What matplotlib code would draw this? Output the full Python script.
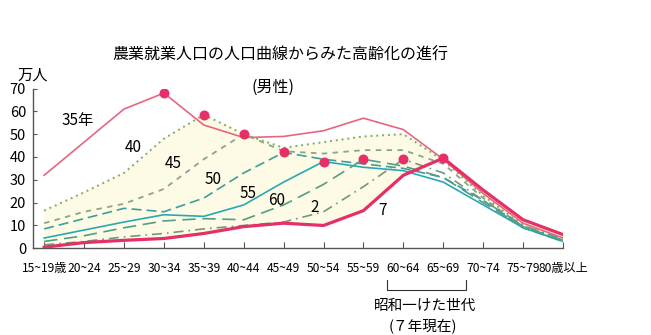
import matplotlib
matplotlib.use('Agg')
import matplotlib.pyplot as plt
import numpy as np

plt.rcParams['font.family'] = ['Noto Sans CJK JP', 'DejaVu Sans']

# 年齢階級
categories = ['15~19歳', '20~24', '25~29', '30~34', '35~39', '40~44', '45~49',
              '50~54', '55~59', '60~64', '65~69', '70~74', '75~79', '80歳以上']

# 各年の農業就業人口(男性、万人)
s35 = [32, 46.5, 61, 68, 54, 48.5, 49, 51.5, 57, 52, 39, 24, 11, 4.5]
s40 = [16.5, 24.5, 33, 48, 58.5, 50, 44, 46.5, 49, 50, 38.5, 23, 10, 3.5]
s45 = [11, 16, 19.5, 26, 39, 50, 42.5, 41.5, 43, 43, 37, 22, 9.5, 3]
s50 = [8.5, 13, 17.5, 16, 22, 33, 42, 39, 37, 35, 31, 21, 9, 3]
s55 = [4.5, 8, 11.5, 14.7, 14, 19, 29, 38, 35.5, 34, 29, 19, 9, 3]
s60 = [3, 5.5, 9, 12, 13, 12.5, 19, 28, 39, 36, 31, 20, 9.5, 3.5]
sH2 = [1.5, 3, 5, 6.5, 8.5, 10, 11.5, 16, 27, 39, 33, 21, 10, 4]
sH7 = [0.5, 2.5, 3.5, 4.3, 6.5, 9.5, 11, 10, 16.5, 32, 39.5, 25.5, 12.5, 6]

# 昭和一けた世代の位置
cohort_idx = [3, 4, 5, 6, 7, 8, 9, 10]
cohort_val = [68, 58.5, 50, 42, 38, 39, 39, 39.5]

series = [
    ('35年', s35, '#e86580', '-', 1.2, 0.85, 56),
    ('40', s40, '#7fae62', (0, (1, 2)), 1.4, 2.23, 44),
    ('45', s45, '#8aa48c', (0, (3, 3)), 1.3, 3.23, 37.3),
    ('50', s50, '#3e9e9a', (0, (6, 3)), 1.2, 4.23, 30.3),
    ('55', s55, '#2aa7b5', '-', 1.2, 5.1, 24.2),
    ('60', s60, '#4f9e86', (0, (8, 4)), 1.2, 5.83, 21.1),
    ('2', sH2, '#6f9a7a', (0, (6, 3, 1, 3)), 1.2, 6.78, 18),
    ('7', sH7, '#e52f66', '-', 2.3, 8.48, 16.7),
]

fig = plt.figure(figsize=(6.51, 3.35), dpi=100)
ax = fig.add_axes([33 / 651, 1 - 248.3 / 335, 530 / 651, 159.8 / 335])

x = np.arange(len(categories))

# 曲線の間のうすい黄色
mid = np.array([s40, s45, s50, s55, s60, sH2])
ax.fill_between(x, mid.max(axis=0), np.array(sH7), color='#fdfbe6', zorder=0)

for name, vals, col, ls, lw, tx, ty in series:
    ax.plot(x, vals, color=col, linestyle=ls, linewidth=lw, zorder=3)
    ax.text(tx, ty, name, fontsize=11, ha='center', va='center', zorder=5)

ax.scatter(cohort_idx, cohort_val, s=38, color='#e52f66', zorder=6)

ax.set_xlim(-0.28, 13)
ax.set_ylim(0, 70)
ax.set_yticks(range(0, 71, 10))
ax.set_xticks(x)
ax.set_xticklabels(categories, fontsize=8.7)
ax.tick_params(axis='y', direction='in', length=3, labelsize=10.5, pad=5, color='#555')
ax.tick_params(axis='x', direction='in', length=4, pad=10, color='#555')
ax.spines['top'].set_visible(False)
ax.spines['right'].set_visible(False)
for sp in ['left', 'bottom']:
    ax.spines[sp].set_color('#555')
    ax.spines[sp].set_linewidth(1)

# タイトルなど
fig.text(280 / 651, 1 - 55 / 335, '農業就業人口の人口曲線からみた高齢化の進行',
         fontsize=11.5, ha='center', va='center')
fig.text(273 / 651, 1 - 87 / 335, '(男性)', fontsize=11.5, ha='center', va='center')
fig.text(33 / 651, 1 - 75 / 335, '万人', fontsize=11, ha='center', va='center')

# 昭和一けた世代の括弧
bx0, bx1 = 387 / 651, 466 / 651
by0, by1 = 1 - 280 / 335, 1 - 290 / 335
fig.add_artist(plt.Line2D([bx0, bx0, bx1, bx1], [by0, by1, by1, by0],
                          color='#333', linewidth=0.8))
fig.text(425 / 651, 1 - 306 / 335, '昭和一けた世代', fontsize=10.5, ha='center', va='center')
fig.text(423 / 651, 1 - 327 / 335, '(７年現在)', fontsize=10.5, ha='center', va='center')

fig.savefig('out.png', dpi=100)
